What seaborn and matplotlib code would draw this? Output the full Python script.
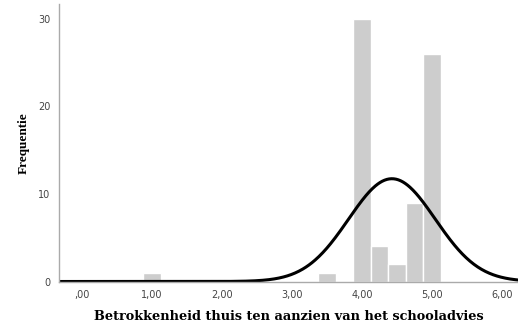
import numpy as np
import pandas as pd
import matplotlib
matplotlib.use("Agg")
import matplotlib.pyplot as plt
import seaborn as sns

# Score values and their frequencies
scores = [1.00, 3.50, 4.00, 4.25, 4.50, 4.75, 5.00]
counts = [1, 1, 30, 4, 2, 9, 26]

x_ticks = [0, 1, 2, 3, 4, 5, 6]
x_tick_labels = [",00", "1,00", "2,00", "3,00", "4,00", "5,00", "6,00"]
y_ticks = [0, 10, 20, 30]

sns.set_theme(style="white")

df = pd.DataFrame({"score": np.repeat(scores, counts)})

fig = plt.figure(figsize=(5.18, 3.24), dpi=100)
ax = fig.add_axes([59 / 518, (324 - 281.5) / 324, 1 - 59 / 518, (281.5 - 4) / 324])

bin_width = 0.25
edges = np.arange(-0.125, 6.5, bin_width)
sns.histplot(data=df, x="score", bins=edges, stat="count", color="#cdcdcd",
             alpha=1.0, edgecolor="white", linewidth=1.0, ax=ax)

# Fitted normal curve scaled to the histogram counts
vals = df["score"].to_numpy()
mu, sd = vals.mean(), vals.std(ddof=1)
xs = np.linspace(-0.35, 6.25, 600)
ys = len(vals) * bin_width * np.exp(-0.5 * ((xs - mu) / sd) ** 2) / (sd * np.sqrt(2 * np.pi))
sns.lineplot(x=xs, y=ys, color="black", linewidth=2.2, ax=ax)

ax.set_xlim(-0.33, 6.23)
ax.set_ylim(0, 31.7)
ax.set_xticks(x_ticks)
ax.set_xticklabels(x_tick_labels)
ax.set_yticks(y_ticks)
ax.tick_params(axis="both", length=0, labelsize=7, labelcolor="#444444", pad=6)

for side in ["top", "right"]:
    ax.spines[side].set_visible(False)
for side in ["left", "bottom"]:
    ax.spines[side].set_color("#aaaaaa")
    ax.spines[side].set_linewidth(1.0)

ax.set_xlabel("Betrokkenheid thuis ten aanzien van het schooladvies",
              family="DejaVu Serif", fontweight="bold", fontsize=9.3,
              color="black", labelpad=7)
ax.set_ylabel("Frequentie", family="Liberation Serif", fontweight="bold",
              fontsize=9.5, color="black", labelpad=6)
ax.grid(False)

fig.savefig("out.png", dpi=100)
